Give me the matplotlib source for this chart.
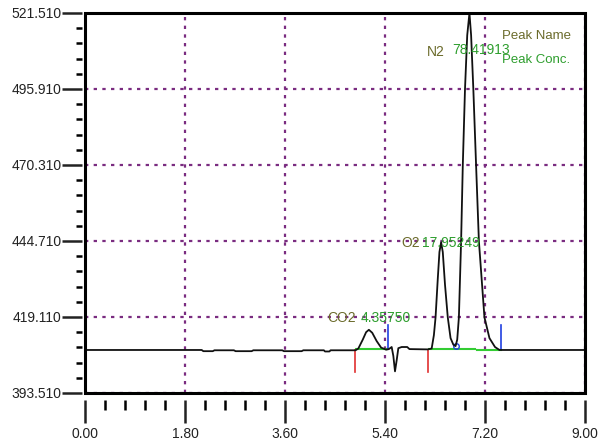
import matplotlib
matplotlib.use("Agg")
import matplotlib.pyplot as plt
from matplotlib.patches import Rectangle
from matplotlib.ticker import MultipleLocator, FixedLocator

plt.rcParams['font.family'] = ['Liberation Sans', 'DejaVu Sans']

# ---- data ----
time = [0.00, 2.10, 2.13, 2.30, 2.33, 2.68, 2.71, 3.00, 3.03, 3.55, 3.58, 3.90, 3.93,
        4.30, 4.32, 4.40, 4.42, 4.87, 4.92, 5.00, 5.06, 5.11, 5.17, 5.25, 5.33, 5.42,
        5.47, 5.52, 5.55, 5.58, 5.61, 5.64, 5.70, 5.80, 5.84, 6.17, 6.24, 6.28, 6.31,
        6.35, 6.38, 6.41, 6.44, 6.48, 6.53, 6.58, 6.63, 6.67, 6.70, 6.73, 6.77, 6.80,
        6.84, 6.88, 6.92, 6.95, 6.99, 7.04, 7.09, 7.19, 7.28, 7.38, 7.46, 9.00]
signal = [408.0, 408.0, 407.6, 407.6, 407.9, 407.9, 407.6, 407.6, 407.9, 407.9, 407.6, 407.6, 407.9,
          407.9, 407.5, 407.5, 407.9, 407.9, 408.5, 411.5, 414.0, 414.8, 413.8, 411.0, 408.8, 408.1,
          408.3, 409.0, 406.0, 400.8, 404.5, 408.6, 409.0, 409.0, 408.3, 408.2, 408.5, 413.0, 419.0,
          432.0, 441.0, 444.3, 441.0, 430.0, 419.0, 412.0, 409.8, 409.3, 411.5, 419.0, 444.7, 470.0,
          495.9, 514.0, 521.5, 514.0, 495.9, 470.0, 444.7, 419.0, 412.0, 409.0, 408.0, 408.0]

peak_names = ["CO2", "O2", "N2"]
peak_conc = ["4.35750", "17.95249", "78.41913"]

start_marks = [4.86, 6.17]        # red
end_marks = [5.45, 7.48]          # blue
valley_mark = (6.67, 409.3)       # blue circle
baseline_segments = [(4.87, 5.43, 408.3), (6.19, 7.02, 408.3), (7.06, 7.48, 408.0)]

x_ticks = [0.00, 1.80, 3.60, 5.40, 7.20, 9.00]
y_ticks = [393.510, 419.110, 444.710, 470.310, 495.910, 521.510]

# ---- figure ----
fig = plt.figure(figsize=(6.06, 4.43), dpi=100)
ax = fig.add_axes([85/606, 50/443, 500/606, 380/443])
ax.set_xlim(0, 9)
ax.set_ylim(393.51, 521.51)

purple = '#7a2c80'
ax.xaxis.set_major_locator(FixedLocator(x_ticks))
ax.yaxis.set_major_locator(FixedLocator(y_ticks))
ax.xaxis.set_minor_locator(MultipleLocator(0.36))
ax.yaxis.set_minor_locator(FixedLocator([393.51 + 5.12 * i for i in range(26)]))
ax.set_xticklabels([f"{v:.2f}" for v in x_ticks])
ax.set_yticklabels([f"{v:.3f}" for v in y_ticks])

ax.grid(True, which='major', color=purple, linestyle=(0, (1.5, 2.4)), linewidth=1.6)
ax.set_axisbelow(True)

for s in ['top', 'right']:
    ax.spines[s].set_visible(False)
ax.spines['left'].set_position(('outward', 2))
ax.spines['bottom'].set_position(('outward', 5))
ax.spines['left'].set_visible(False)
ax.spines['bottom'].set_visible(False)

ax.tick_params(axis='x', which='major', direction='out', length=16.5, width=1.8, pad=3,
               labelsize=10, colors='#222222')
ax.tick_params(axis='x', which='minor', direction='out', length=7.2, width=1.8)
ax.tick_params(axis='y', which='major', direction='out', length=14.4, width=1.8, pad=0.5,
               labelsize=10, colors='#222222')
ax.tick_params(axis='y', which='minor', direction='out', length=4.5, width=1.8)

ax.add_patch(Rectangle((0, 0), 1, 1, transform=ax.transAxes, fill=False,
                       edgecolor='black', linewidth=2.2, clip_on=False, zorder=5))

# baselines and markers
green = '#33cc33'
for x0, x1, y in baseline_segments:
    ax.plot([x0, x1], [y, y], color=green, lw=1.5, zorder=3)
for x in start_marks:
    ax.plot([x, x], [408.1, 400.6], color='#e03030', lw=1.2, zorder=3)
for x in end_marks:
    ax.plot([x, x], [416.3, 408.2], color='#2040e0', lw=1.2, zorder=3)
ax.plot([valley_mark[0]], [valley_mark[1]], marker='o', ms=4, mfc='none', mec='#2040e0',
        mew=1.0, zorder=4)

ax.plot(time, signal, color='#111111', lw=1.3, zorder=4)

olive = '#6b6b2b'
tgreen = '#2e9e2e'
name_pos = [(4.36, 418.8), (5.69, 444.0), (6.16, 508.4)]
conc_pos = [(4.97, 418.8), (6.07, 444.0), (6.61, 509.0)]
for n, c, (nx, ny), (cx, cy) in zip(peak_names, peak_conc, name_pos, conc_pos):
    ax.text(nx, ny, n, color=olive, fontsize=10, va='center', ha='left', zorder=6)
    ax.text(cx, cy, c, color=tgreen, fontsize=10, va='center', ha='left', zorder=6)

ax.text(7.51, 513.8, "Peak Name", color=olive, fontsize=9.5, va='center', ha='left', zorder=6)
ax.text(7.51, 505.7, "Peak Conc.", color=tgreen, fontsize=9.5, va='center', ha='left', zorder=6)

fig.savefig("out.png", dpi=100)
